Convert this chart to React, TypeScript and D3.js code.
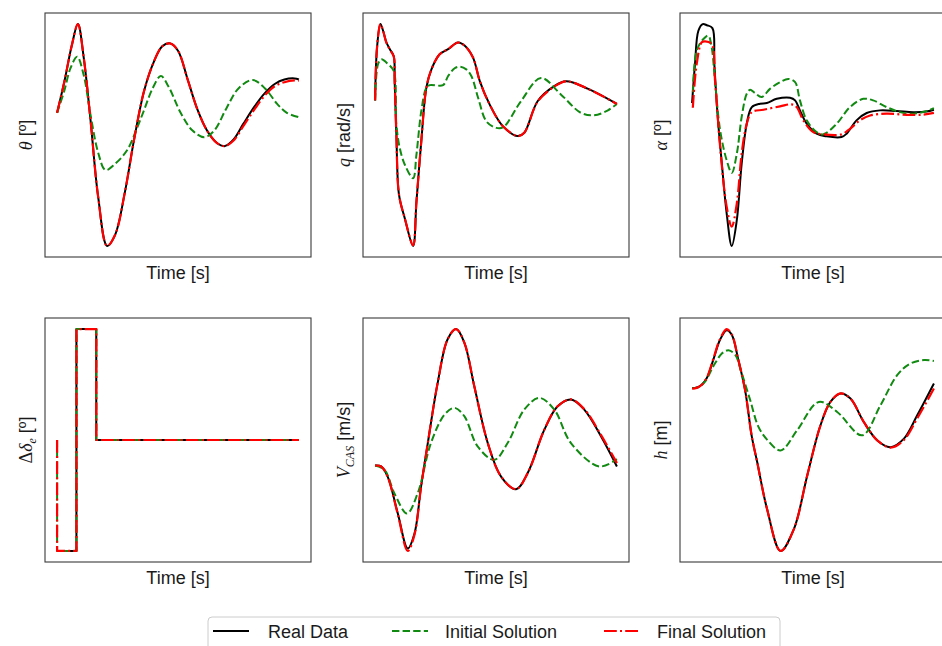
import React from "react";
import * as d3 from "d3";

// ---------------- DATA ----------------
// theta
const THETA_T_REAL = [0, 3, 6, 8.6, 11, 13.8, 17, 20.7, 24, 28, 31.8, 36, 40, 43.5, 46.7, 50, 54, 58.1, 62, 66, 69.4, 73, 77, 81.6, 86, 90, 94, 98.2, 100];
const THETA_REAL = [60, 74, 90, 100, 85, 57, 22, 0, 5, 24, 47.7, 70, 83, 90, 91.3, 88, 75, 61.3, 52, 46.5, 45, 48, 55, 62.8, 69, 73, 75, 75.5, 75];
const THETA_FINAL = [60, 74, 90, 100, 85, 57, 22, 0, 5, 24, 47.7, 70, 83, 90, 91.3, 88, 75, 61.3, 52, 46.5, 45, 47.5, 54, 61.5, 68, 72, 73.8, 74.6, 74.5];
const THETA_T_INIT = [0, 3, 5.5, 8.3, 11, 14, 17, 20, 24, 29, 33, 36, 39.5, 42.9, 46, 51.2, 56, 60.9, 65, 70, 75, 80.9, 86, 91, 95, 100];
const THETA_INIT = [60, 70, 80, 85.3, 77, 58, 42, 34.2, 37, 43.2, 53, 61.3, 71, 76.6, 72, 59.8, 52, 49, 52, 62, 71, 74.8, 71, 64, 60, 58];

// q
const Q_T_REAL = [0, 0.8, 2.2, 3.3, 4.7, 6.1, 7.7, 8.1, 8.8, 9.9, 12.3, 15.7, 17.1, 19.1, 21.2, 23.3, 26.7, 30.2, 34.3, 37.1, 40.5, 43.3, 47.4, 52.9, 59, 61.7, 67.2, 74.1, 78.9, 87.9, 100];
const Q_REAL = [65.6, 89.4, 100, 97, 91.7, 88.7, 85.6, 74.3, 50.2, 23, 12.4, 0, 19.9, 47.1, 71.3, 79.6, 86.4, 88.7, 91.7, 90.2, 84.9, 74.3, 63.7, 53.9, 49.5, 51, 65.2, 72, 74.2, 70.9, 64];
const Q_FINAL = [65.6, 89.4, 100, 97, 91.5, 88.5, 85.4, 74.3, 50.2, 23, 12.4, 0.3, 19.9, 47.1, 71.3, 79.6, 86.4, 88.7, 91.7, 90.2, 84.9, 74.3, 63.7, 53.9, 49.5, 51, 65, 71.8, 74.2, 70.9, 64];
const Q_T_INIT = [0, 1.2, 2.6, 5.4, 7.7, 8.8, 10.2, 12.3, 15.7, 17.1, 19.1, 21.2, 22.6, 28.1, 30.2, 32.9, 35, 37.7, 39.8, 42.6, 46, 50.1, 53, 60.3, 68.6, 76.9, 85.1, 90.6, 96.1, 100];
const Q_INIT = [65.6, 81.9, 84.1, 81.9, 78.9, 54.7, 44.1, 36.6, 30.5, 41.1, 60.7, 71.3, 72.5, 72.5, 76.6, 80.1, 80.8, 79.6, 76.6, 66.8, 56.2, 53.2, 53.5, 65.2, 75.7, 68.2, 60, 58.9, 61, 64];

// alpha
const A_T_REAL = [0, 1.2, 2.6, 4.4, 6.1, 8.4, 9.2, 10.5, 12.3, 14.3, 16.4, 18.5, 20.5, 22.6, 24.7, 28.1, 30.9, 35, 40.5, 42.6, 44.6, 47.4, 51.5, 55.6, 61.8, 63.9, 68, 72.2, 77.7, 84.6, 91.5, 97, 100];
const A_REAL = [64.4, 82, 97, 100, 99.5, 98.2, 82, 59.6, 37.1, 14.7, 0, 11.7, 37.1, 55.1, 62.6, 64.1, 64.4, 66.3, 66.8, 65.6, 61.1, 55.1, 50.6, 49.4, 49.1, 50.6, 56.6, 59.9, 61.1, 60.8, 60.3, 60.6, 61.4];
const A_T_FINAL = [0.3, 1.9, 4, 5.4, 8.1, 9.5, 11.6, 14.3, 16.4, 18.5, 20.5, 22.6, 24.7, 29.5, 36.4, 41.2, 43.3, 46, 50.1, 54.3, 61.8, 65.3, 69.4, 73.6, 80.4, 88.7, 95.6, 100];
const A_FINAL = [62.3, 82, 91.8, 92.2, 91, 74.6, 44.6, 17.7, 8.7, 19.2, 41.6, 55, 60.3, 61.4, 62.9, 63.8, 62.5, 56.6, 51.3, 50.3, 50.3, 52.8, 56.6, 58.8, 59.6, 59.1, 59.2, 60];
const A_T_INIT = [0.3, 1.9, 4.7, 6.7, 8.1, 9.5, 11.6, 14.3, 16.4, 18.5, 20.5, 22.6, 24, 26, 28.8, 32.2, 36.4, 39.8, 42.6, 44.6, 47.4, 51.5, 54.3, 59.8, 65.3, 70.8, 74.9, 80.4, 85.9, 91.5, 97, 100];
const A_INIT = [69.3, 88, 93.3, 94.8, 89.5, 74, 52.1, 38.6, 32.9, 41.6, 58.1, 68.6, 70.4, 68.9, 67.1, 70.8, 73.8, 75.3, 73.8, 65.6, 56.6, 51.3, 50.3, 55.1, 62.6, 66.3, 65.6, 62.6, 60.3, 59.6, 60.8, 62.1];

// elevator deflection
const D_T_REAL = [0, 8, 8, 16.2, 16.2, 100];
const D_REAL = [0, 0, 100, 100, 50, 50];
const D_T_SOL = [0, 0, 8, 8, 16.2, 16.2, 100];
const D_SOL = [50, 0, 0, 100, 100, 50, 50];

// V_CAS
const V_T_REAL = [0, 2.5, 5.2, 9.4, 13.5, 16.3, 19, 21.8, 25.9, 30, 33.5, 36.9, 41, 46.6, 52.1, 58.3, 63.1, 70, 75.5, 81, 86.5, 93.4, 100];
const V_REAL = [38.1, 37.7, 33.1, 16.4, 0.5, 7.3, 28.6, 48.3, 75.7, 95.4, 100, 93.9, 74.2, 48.3, 33.1, 27.4, 34.7, 54.4, 65, 68.1, 63.5, 51.4, 37.7];
const V_FINAL = [38.1, 37.7, 33, 16, -0.6, 6.8, 28.3, 48.3, 75.7, 95.4, 100, 93.9, 74.2, 48.3, 33.1, 27.4, 34.7, 54.4, 65, 68.1, 63.7, 52, 39.2];
const V_T_INIT = [0, 3.9, 8, 13.2, 17.6, 23.1, 28.7, 32.8, 36.9, 42.4, 49.3, 54.8, 61.7, 67.9, 74.1, 81, 92.7, 100];
const V_INIT = [38.1, 36.2, 25.5, 16.4, 25.5, 48.3, 61.2, 64.3, 60.5, 46.8, 40.7, 48.3, 63.5, 68.8, 63.5, 48.3, 37.7, 41];

// h
const H_T_REAL = [0, 1.9, 4, 6.1, 8.8, 11.6, 14.3, 16.4, 19.1, 21.9, 24.7, 26.9, 31, 36.6, 42.1, 47.6, 53.1, 57.2, 61.4, 65.5, 71, 76.6, 82.1, 87.6, 93.1, 100];
const H_REAL = [73.1, 73.4, 74.6, 77.6, 85.9, 94.9, 99.1, 97.1, 85.9, 72.3, 51.3, 40, 18.8, 0, 9.8, 33.8, 56.4, 66.9, 70.7, 68.4, 57.9, 49.6, 46.6, 50.4, 60.9, 75.2];
const H_FINAL = [72.8, 73.2, 74.6, 77.8, 86.3, 95.3, 99.6, 97.3, 85.9, 72.3, 51.3, 40, 18.8, 0, 9.8, 33.8, 56.4, 66.9, 70.7, 68.4, 57.9, 49.6, 46.4, 49.8, 59.5, 72.9];
const H_T_INIT = [0, 2.6, 5.4, 8.8, 12.3, 15, 17.8, 20.5, 24, 27.4, 31, 36.6, 43.4, 52.4, 60, 70.3, 77.9, 84.8, 90, 95.9, 100];
const H_INIT = [73.1, 73.4, 76.1, 82.9, 88.6, 90.1, 88.1, 79.8, 67.8, 55.8, 50, 45.1, 54.1, 66.9, 62.4, 51.9, 65.4, 78.9, 84, 85.7, 85.3];

const LEGEND_LABELS = ["Real Data", "Initial Solution", "Final Solution"];

// ---------------- LAYOUT / STYLE ----------------
const W = 942;
const H = 646;
const COL_X = [45, 363, 680];
const ROW_Y = [13, 318];
const PW = 266;
const PH = 244;
const LABEL_X = [32, 350, 667];
const FONT = "'Liberation Sans', Arial, Helvetica, sans-serif";
const MATH = "'Liberation Serif', 'DejaVu Serif', serif";

type Series = { t: number[]; v: number[] };
type Panel = {
  real: Series;
  init: Series;
  final: Series;
  label: React.ReactNode;
  step?: boolean;
};

const mi = (s: string) => (
  <tspan fontFamily={MATH} fontStyle="italic">{s}</tspan>
);

const PANELS: Panel[] = [
  { real: { t: THETA_T_REAL, v: THETA_REAL }, init: { t: THETA_T_INIT, v: THETA_INIT }, final: { t: THETA_T_REAL, v: THETA_FINAL }, label: <>{mi("θ")}<tspan> [º]</tspan></> },
  { real: { t: Q_T_REAL, v: Q_REAL }, init: { t: Q_T_INIT, v: Q_INIT }, final: { t: Q_T_REAL, v: Q_FINAL }, label: <>{mi("q")}<tspan> [rad/s]</tspan></> },
  { real: { t: A_T_REAL, v: A_REAL }, init: { t: A_T_INIT, v: A_INIT }, final: { t: A_T_FINAL, v: A_FINAL }, label: <>{mi("α")}<tspan> [º]</tspan></> },
  { real: { t: D_T_REAL, v: D_REAL }, init: { t: D_T_SOL, v: D_SOL }, final: { t: D_T_SOL, v: D_SOL }, step: true, label: <><tspan fontFamily={MATH}>Δ</tspan>{mi("δ")}<tspan fontFamily={MATH} fontStyle="italic" fontSize={12} dy={4}>e</tspan><tspan dy={-4}> [º]</tspan></> },
  { real: { t: V_T_REAL, v: V_REAL }, init: { t: V_T_INIT, v: V_INIT }, final: { t: V_T_REAL, v: V_FINAL }, label: <>{mi("V")}<tspan fontFamily={MATH} fontStyle="italic" fontSize={12} dy={4}>CAS</tspan><tspan dy={-4}> [m/s]</tspan></> },
  { real: { t: H_T_REAL, v: H_REAL }, init: { t: H_T_INIT, v: H_INIT }, final: { t: H_T_REAL, v: H_FINAL }, label: <>{mi("h")}<tspan> [m]</tspan></> },
];

const STYLES = [
  { color: "#000000", dash: undefined as string | undefined, width: 2 },
  { color: "#118a11", dash: "7.4,3.2", width: 2 },
  { color: "#ff0000", dash: "12.8,3.2,2,3.2", width: 2.2 },
];

function pad(ext: [number, number]): [number, number] {
  const d = ext[1] - ext[0];
  return [ext[0] - d * 0.05, ext[1] + d * 0.05];
}

function PanelView({ p, i }: { p: Panel; i: number }) {
  const col = i % 3;
  const row = Math.floor(i / 3);
  const x0 = COL_X[col];
  const y0 = ROW_Y[row];
  const all = [p.real, p.init, p.final];
  const tExt = d3.extent(all.flatMap((s) => s.t)) as [number, number];
  const vExt = d3.extent(all.flatMap((s) => s.v)) as [number, number];
  const x = d3.scaleLinear().domain(pad(tExt)).range([x0, x0 + PW]);
  const y = d3.scaleLinear().domain(pad(vExt)).range([y0 + PH, y0]);
  const line = d3
    .line<[number, number]>()
    .x((d) => x(d[0]))
    .y((d) => y(d[1]))
    .curve(p.step ? d3.curveLinear : d3.curveCatmullRom.alpha(0.5));
  const toPts = (s: Series) => s.t.map((t, k) => [t, s.v[k]] as [number, number]);
  const clipId = `clip${i}`;
  return (
    <g>
      <defs>
        <clipPath id={clipId}>
          <rect x={x0} y={y0} width={PW} height={PH} />
        </clipPath>
      </defs>
      <g clipPath={`url(#${clipId})`}>
        {all.map((s, k) => (
          <path
            key={k}
            d={line(toPts(s)) || ""}
            fill="none"
            stroke={STYLES[k].color}
            strokeWidth={STYLES[k].width}
            strokeDasharray={STYLES[k].dash}
            strokeLinejoin="round"
          />
        ))}
      </g>
      <rect x={x0} y={y0} width={PW} height={PH} fill="none" stroke="#3a3a3a" strokeWidth={1.1} />
      <text
        x={x0 + PW / 2}
        y={y0 + PH + 22}
        textAnchor="middle"
        fontFamily={FONT}
        fontSize={18}
        fill="#1a1a1a"
      >
        Time [s]
      </text>
      <text
        transform={`translate(${LABEL_X[col]},${y0 + PH / 2}) rotate(-90)`}
        textAnchor="middle"
        fontFamily={FONT}
        fontSize={18}
        fill="#1a1a1a"
      >
        {p.label}
      </text>
    </g>
  );
}

function Legend() {
  const bx = 208;
  const by = 617;
  const lineX = [213, 392, 604];
  const textX = [268, 445, 657];
  const ly = 631;
  return (
    <g>
      <rect x={bx} y={by} width={572} height={44} rx={4} fill="#fff" stroke="#cccccc" strokeWidth={1} />
      {LEGEND_LABELS.map((lab, k) => (
        <g key={lab}>
          <line
            x1={lineX[k]}
            x2={lineX[k] + 36}
            y1={ly}
            y2={ly}
            stroke={STYLES[k].color}
            strokeWidth={STYLES[k].width}
            strokeDasharray={STYLES[k].dash}
          />
          <text x={textX[k]} y={ly + 7} fontFamily={FONT} fontSize={18} fill="#1a1a1a">
            {lab}
          </text>
        </g>
      ))}
    </g>
  );
}

export default function App() {
  return (
    <div style={{ position: "fixed", left: 0, top: 0, width: W, height: H, background: "#fff" }}>
      <svg width={W} height={H} viewBox={`0 0 ${W} ${H}`} style={{ display: "block" }}>
        <rect width={W} height={H} fill="#fff" />
        {PANELS.map((p, i) => (
          <PanelView key={i} p={p} i={i} />
        ))}
        <Legend />
      </svg>
    </div>
  );
}
